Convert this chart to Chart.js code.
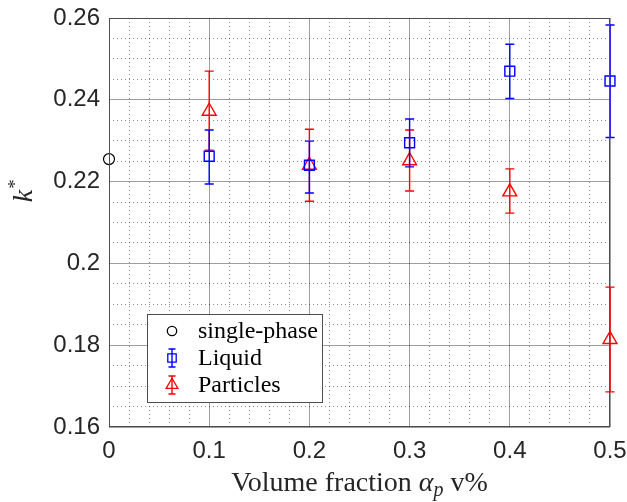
<!DOCTYPE html>
<html>
<head>
<meta charset="utf-8">
<script src="https://cdn.jsdelivr.net/npm/chart.js@4/dist/chart.umd.min.js"></script>
<style>
    body { margin: 0; background: #ffffff; }
    #wrap { width: 627px; height: 502px; }
</style>
</head>
<body>
<div id="wrap"><canvas id="graph_k" width="627" height="502"></canvas></div>
<script>
    /*****************************************************************
     * data
     *****************************************************************/
    var volumeFractions = [0.1, 0.2, 0.3, 0.4, 0.5];

    var singlePhaseX = [0];
    var singlePhaseK = [0.2255];

    var liquidK = [0.2262, 0.2240, 0.2295, 0.2470, 0.2446];
    var liquidLow = [0.2194, 0.2172, 0.2236, 0.2403, 0.2308];
    var liquidHigh = [0.2326, 0.2299, 0.2353, 0.2536, 0.2583];

    var particleK = [0.2372, 0.2240, 0.2251, 0.2175, 0.1814];
    var particleLow = [0.2277, 0.2152, 0.2177, 0.2123, 0.1686];
    var particleHigh = [0.2470, 0.2328, 0.2326, 0.2231, 0.1942];

    var xTicks = [0, 0.1, 0.2, 0.3, 0.4, 0.5];
    var yTicks = [0.16, 0.18, 0.2, 0.22, 0.24, 0.26];

    /*****************************************************************
     * helpers
     *****************************************************************/
    function toPoints(xs, ys) {
        var pts = [];
        for (var i = 0; i < xs.length; i++) {
            pts.push({ x: xs[i], y: ys[i] });
        }
        return pts;
    }
    function isMajor(value, list) {
        for (var i = 0; i < list.length; i++) {
            if (Math.abs(value - list[i]) < 1e-6) {
                return true;
            }
        }
        return false;
    }
    function gridColor(list) {
        return function (ctx) {
            if (ctx.tick && isMajor(ctx.tick.value, list)) {
                return 'rgba(0,0,0,0.38)';
            }
            return 'rgba(0,0,0,0.45)';
        };
    }
    function gridDash(list) {
        return function (ctx) {
            if (!ctx.tick || isMajor(ctx.tick.value, list)) {
                return [];
            }
            return [1, 3];
        };
    }
    function tickLabel(list) {
        return function (value) {
            if (isMajor(value, list)) {
                return String(Number(value.toFixed(2)));
            }
            return '';
        };
    }
    // 축 라벨 때문에 생기는 여백 제거
    function noLabelPadding(scale) {
        scale.paddingLeft = 0;
        scale.paddingRight = 0;
        scale.paddingTop = 0;
        scale.paddingBottom = 0;
    }
    function drawMarker(ctx, style, x, y, r, color) {
        ctx.save();
        ctx.strokeStyle = color;
        ctx.lineWidth = 1.3;
        ctx.beginPath();
        if (style === 'circle') {
            ctx.arc(x, y, r, 0, Math.PI * 2);
        } else if (style === 'rect') {
            var s = r * Math.SQRT1_2;
            ctx.rect(x - s, y - s, 2 * s, 2 * s);
        } else if (style === 'triangle') {
            ctx.moveTo(x, y - r);
            ctx.lineTo(x + r * 0.866, y + r / 2);
            ctx.lineTo(x - r * 0.866, y + r / 2);
            ctx.closePath();
        }
        ctx.stroke();
        ctx.restore();
    }

    // 오차막대 (draw before each dataset's points)
    var errorBarPlugin = {
        id: 'errorBars',
        beforeDatasetDraw: function (chart, args) {
            var ds = chart.data.datasets[args.index];
            if (!ds.errLow) {
                return;
            }
            var ctx = chart.ctx;
            var xs = chart.scales.x;
            var ys = chart.scales.y;
            ctx.save();
            ctx.strokeStyle = ds.borderColor;
            ctx.lineWidth = 1.4;
            for (var i = 0; i < ds.data.length; i++) {
                var px = xs.getPixelForValue(ds.data[i].x);
                var lo = ys.getPixelForValue(ds.errLow[i]);
                var hi = ys.getPixelForValue(ds.errHigh[i]);
                ctx.beginPath();
                ctx.moveTo(px, lo);
                ctx.lineTo(px, hi);
                ctx.moveTo(px - 4.5, lo);
                ctx.lineTo(px + 4.5, lo);
                ctx.moveTo(px - 4.5, hi);
                ctx.lineTo(px + 4.5, hi);
                ctx.stroke();
            }
            ctx.restore();
        }
    };

    // box, axis titles, legend
    var decorPlugin = {
        id: 'decor',
        afterDatasetsDraw: function (chart) {
            var ctx = chart.ctx;
            var a = chart.chartArea;
            ctx.save();
            ctx.strokeStyle = '#4d4d4d';
            ctx.lineWidth = 1;
            ctx.strokeRect(a.left + 0.5, a.top + 0.5, a.right - a.left - 1, a.bottom - a.top - 1);
            ctx.restore();
        },
        afterDraw: function (chart) {
            var ctx = chart.ctx;
            var a = chart.chartArea;
            ctx.save();
            ctx.fillStyle = '#262626';
            ctx.textBaseline = 'alphabetic';

            // x title
            var parts = [
                { t: 'Volume fraction ', f: '28px "Liberation Serif"', dy: 0 },
                { t: '\u03B1', f: 'italic 28px "Liberation Serif"', dy: 0 },
                { t: 'p', f: 'italic 20px "Liberation Serif"', dy: 5 },
                { t: ' v%', f: '28px "Liberation Serif"', dy: 0 }
            ];
            var total = 0;
            for (var i = 0; i < parts.length; i++) {
                ctx.font = parts[i].f;
                parts[i].w = ctx.measureText(parts[i].t).width;
                total += parts[i].w;
            }
            var cx = (a.left + a.right) / 2 - total / 2;
            for (var j = 0; j < parts.length; j++) {
                ctx.font = parts[j].f;
                ctx.fillText(parts[j].t, cx, 491 + parts[j].dy);
                cx += parts[j].w;
            }

            // y title
            ctx.translate(32, 193);
            ctx.rotate(-Math.PI / 2);
            ctx.font = 'italic 28px "Liberation Serif"';
            var kw = ctx.measureText('k').width;
            ctx.fillText('k', -kw / 2 - 3, 0);
            ctx.font = '19px "Liberation Serif"';
            ctx.fillText('*', kw / 2 - 2, -11);
            ctx.restore();

            // legend
            var lx = 147, ly = 314, lw = 175, lh = 88;
            ctx.save();
            ctx.fillStyle = '#ffffff';
            ctx.fillRect(lx, ly, lw, lh);
            ctx.strokeStyle = '#4d4d4d';
            ctx.lineWidth = 1;
            ctx.strokeRect(lx + 0.5, ly + 0.5, lw, lh);
            var rows = [331, 358, 385];
            var dss = chart.data.datasets;
            for (var k = 0; k < dss.length; k++) {
                var ds = dss[k];
                var my = rows[k];
                if (ds.errLow) {
                    ctx.strokeStyle = ds.borderColor;
                    ctx.lineWidth = 1.4;
                    ctx.beginPath();
                    ctx.moveTo(172, my - 9);
                    ctx.lineTo(172, my + 9);
                    ctx.moveTo(168.5, my - 9);
                    ctx.lineTo(175.5, my - 9);
                    ctx.moveTo(168.5, my + 9);
                    ctx.lineTo(175.5, my + 9);
                    ctx.stroke();
                }
                drawMarker(ctx, ds.pointStyle, 172, my, ds.pointRadius * 0.85, ds.borderColor);
                ctx.fillStyle = '#000000';
                ctx.font = '24px "Liberation Serif"';
                ctx.textBaseline = 'middle';
                ctx.fillText(ds.label, 198, my + 1);
            }
            ctx.restore();
        }
    };

    /*****************************************************************
     * chart
     *****************************************************************/
    var ctx = document.getElementById('graph_k').getContext('2d');
    var kChart = new Chart(ctx, {
        type: 'scatter',
        data: {
            datasets: [{
                label: 'single-phase',
                data: toPoints(singlePhaseX, singlePhaseK),
                pointStyle: 'circle',
                pointRadius: 5.5,
                borderColor: '#000000',
                backgroundColor: 'rgba(0,0,0,0)',
                borderWidth: 1.2,
                clip: false
            }, {
                label: 'Liquid',
                data: toPoints(volumeFractions, liquidK),
                errLow: liquidLow,
                errHigh: liquidHigh,
                pointStyle: 'rect',
                pointRadius: 7,
                borderColor: '#0000ff',
                backgroundColor: 'rgba(0,0,0,0)',
                borderWidth: 1.4,
                clip: false
            }, {
                label: 'Particles',
                data: toPoints(volumeFractions, particleK),
                errLow: particleLow,
                errHigh: particleHigh,
                pointStyle: 'triangle',
                pointRadius: 8,
                borderColor: '#ff0000',
                backgroundColor: 'rgba(0,0,0,0)',
                borderWidth: 1.4,
                clip: false
            }]
        },
        options: {
            responsive: false,
            animation: false,
            layout: { padding: { left: 0, right: 17, top: 18, bottom: 0 } },
            plugins: {
                legend: { display: false },
                tooltip: { enabled: false }
            },
            scales: {
                x: {
                    type: 'linear',
                    min: 0,
                    max: 0.5,
                    afterFit: function (scale) {
                        scale.height = 75;
                        noLabelPadding(scale);
                    },
                    ticks: {
                        stepSize: 0.02,
                        maxTicksLimit: 1000,
                        autoSkip: false,
                        maxRotation: 0,
                        padding: 10,
                        color: '#262626',
                        font: { family: '"Liberation Sans"', size: 24 },
                        callback: tickLabel(xTicks)
                    },
                    grid: { color: gridColor(xTicks), lineWidth: 1, drawTicks: false },
                    border: { display: false, dash: gridDash(xTicks) }
                },
                y: {
                    type: 'linear',
                    min: 0.16,
                    max: 0.26,
                    afterFit: function (scale) {
                        scale.width = 109;
                        noLabelPadding(scale);
                    },
                    ticks: {
                        stepSize: 0.005,
                        maxTicksLimit: 1000,
                        autoSkip: false,
                        padding: 9,
                        color: '#262626',
                        font: { family: '"Liberation Sans"', size: 24 },
                        callback: tickLabel(yTicks)
                    },
                    grid: { color: gridColor(yTicks), lineWidth: 1, drawTicks: false },
                    border: { display: false, dash: gridDash(yTicks) }
                }
            }
        },
        plugins: [errorBarPlugin, decorPlugin]
    });
</script>
</body>
</html>
